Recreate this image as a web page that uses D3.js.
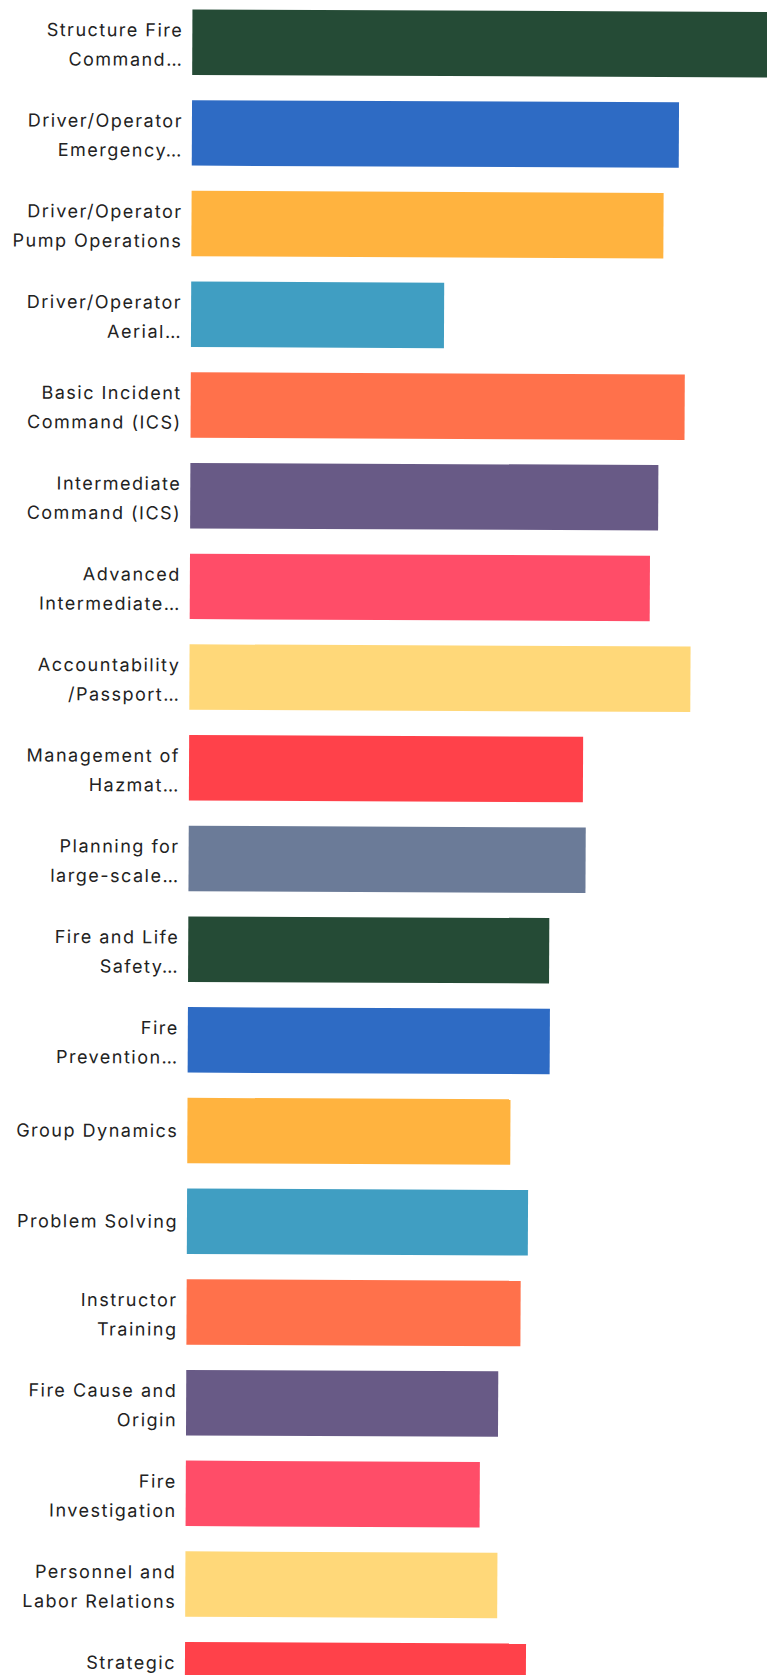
<!DOCTYPE html>
<html>
<head>
<meta charset="utf-8">
<script src="https://cdn.jsdelivr.net/npm/d3@7"></script>
<style>
  html, body { margin: 0; padding: 0; background: #fff; }
  svg { display: block; }
  .label { font-family: Inter, "Noto Sans", sans-serif; font-size: 18px; letter-spacing: 1.5px; fill: #222; }
</style>
</head>
<body>
<svg id="chart" width="767" height="1675"></svg>
<script>
// Training topics, top to bottom
const categories = [
  "Structure Fire Command",
  "Driver/Operator Emergency",
  "Driver/Operator Pump Operations",
  "Driver/Operator Aerial",
  "Basic Incident Command (ICS)",
  "Intermediate Command (ICS)",
  "Advanced Intermediate",
  "Accountability/Passport",
  "Management of Hazmat",
  "Planning for large-scale",
  "Fire and Life Safety",
  "Fire Prevention",
  "Group Dynamics",
  "Problem Solving",
  "Instructor Training",
  "Fire Cause and Origin",
  "Fire Investigation",
  "Personnel and Labor Relations",
  "Strategic"
];

// Wrapped, truncated axis labels as shown beside each bar
const labelLines = [
  ["Structure Fire", "Command…"],
  ["Driver/Operator", "Emergency…"],
  ["Driver/Operator", "Pump Operations"],
  ["Driver/Operator", "Aerial…"],
  ["Basic Incident", "Command (ICS)"],
  ["Intermediate", "Command (ICS)"],
  ["Advanced", "Intermediate…"],
  ["Accountability", "/Passport…"],
  ["Management of", "Hazmat…"],
  ["Planning for", "large-scale…"],
  ["Fire and Life", "Safety…"],
  ["Fire", "Prevention…"],
  ["Group Dynamics"],
  ["Problem Solving"],
  ["Instructor", "Training"],
  ["Fire Cause and", "Origin"],
  ["Fire", "Investigation"],
  ["Personnel and", "Labor Relations"],
  ["Strategic", ""]
];

// Score per topic
const values = [
  60.0, 48.7, 47.2, 25.3, 49.4, 46.8, 46.0, 50.1, 39.4, 39.7,
  36.1, 36.2, 32.3, 34.1, 33.4, 31.2, 29.4, 31.2, 34.1
];

// Ten-colour palette, repeated down the list
const palette = [
  "#254b36", "#2e6bc4", "#ffb33f", "#409ec2", "#ff714b",
  "#685a86", "#ff4d68", "#ffd879", "#ff414a", "#6b7b98"
];

const data = categories.map((c, i) => ({
  key: c, lines: labelLines[i], value: values[i], color: palette[i % palette.length]
}));

const svg = d3.select("#chart");
const W = 767, H = 1675;
const left = 188.7;
const step = 90.7;

const x = d3.scaleLinear().domain([0, 60]).range([0, 600]);
const y = d3.scaleBand()
  .domain(categories)
  .range([-2.3, -2.3 + step * categories.length])
  .paddingInner(0.278)
  .paddingOuter(0.139);

// whole figure sits a touch off-square
const g = svg.append("g").attr("transform", `rotate(0.26, ${W / 2}, ${H / 2})`);

const plot = g.append("g").attr("transform", `translate(${left},0)`);

plot.selectAll("rect.bar")
  .data(data)
  .join("rect")
  .attr("class", "bar")
  .attr("x", x(0))
  .attr("y", d => y(d.key))
  .attr("width", d => x(d.value) - x(0))
  .attr("height", y.bandwidth())
  .attr("fill", d => d.color);

// category axis: right-aligned wrapped labels
const yAxis = d3.axisLeft(y).tickSize(0).tickPadding(9).tickFormat("");
const axisG = plot.append("g").call(yAxis);
axisG.select(".domain").remove();

const lineGap = 29.4;
axisG.selectAll(".tick").each(function (key) {
  const d = data.find(e => e.key === key);
  const t = d3.select(this).select("text")
    .attr("class", "label")
    .attr("text-anchor", "end")
    .attr("dy", null)
    .attr("font-size", null)
    .attr("font-family", null)
    .attr("fill", null);
  const n = d.lines.length;
  const shift = n > 1 ? 2.5 : 0;
  d.lines.forEach((ln, i) => {
    if (!ln) return;
    const centre = (i - (n - 1) / 2) * lineGap + shift;
    t.append("tspan")
      .attr("x", -9)
      .attr("y", centre + 6.6)
      .text(ln);
  });
});
</script>
</body>
</html>
